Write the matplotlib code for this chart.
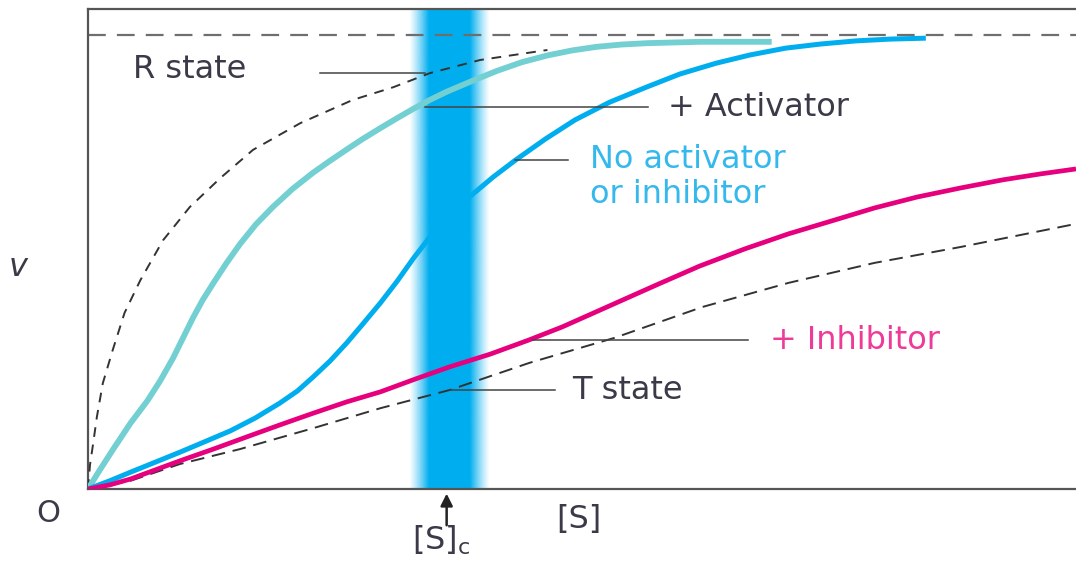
import numpy as np
import matplotlib
matplotlib.use("Agg")
import matplotlib.pyplot as plt
from matplotlib.colors import to_rgb

plt.rcParams['font.family'] = ['DejaVu Sans']
plt.rcParams['mathtext.default'] = 'regular'

# curves: [S] (0..10) and v (Vmax = 1)
act_x = [0, 0.12, 0.25, 0.43, 0.60, 0.73, 0.86, 0.96, 1.06, 1.16, 1.27, 1.40, 1.54,
         1.70, 1.87, 2.07, 2.28, 2.45, 2.62, 2.78, 2.96, 3.13, 3.29, 3.46, 3.63,
         3.89, 4.14, 4.39, 4.65, 4.90, 5.15, 5.40, 5.66, 6.19, 6.92]
act_y = [0, 0.042, 0.086, 0.145, 0.194, 0.238, 0.288, 0.332, 0.376, 0.416, 0.454,
         0.497, 0.540, 0.583, 0.621, 0.661, 0.697, 0.723, 0.748, 0.771, 0.795,
         0.817, 0.837, 0.857, 0.875, 0.899, 0.921, 0.940, 0.955, 0.966, 0.974,
         0.979, 0.982, 0.985, 0.985]

none_x = [0, 0.22, 0.43, 0.68, 0.93, 1.18, 1.44, 1.69, 1.94, 2.12, 2.28, 2.45, 2.62,
          2.78, 2.96, 3.13, 3.29, 3.46, 3.66, 3.87, 4.10, 4.33, 4.63, 4.93, 5.28,
          5.65, 5.99, 6.36, 6.70, 7.06, 7.41, 7.77, 8.12, 8.48]
none_y = [0, 0.018, 0.037, 0.059, 0.081, 0.104, 0.128, 0.156, 0.189, 0.216, 0.247,
          0.282, 0.322, 0.363, 0.410, 0.458, 0.507, 0.555, 0.606, 0.645, 0.687,
          0.725, 0.771, 0.813, 0.852, 0.885, 0.914, 0.938, 0.956, 0.971, 0.980,
          0.987, 0.991, 0.993]

inh_x = [0, 0.22, 0.43, 0.68, 0.93, 1.27, 1.61, 1.94, 2.28, 2.62, 2.96, 3.31, 3.66,
         4.07, 4.46, 4.80, 5.12, 5.46, 5.78, 6.19, 6.65, 7.09, 7.52, 7.96, 8.39,
         8.83, 9.26, 9.64, 10.0]
inh_y = [0, 0.009, 0.022, 0.042, 0.062, 0.088, 0.115, 0.141, 0.167, 0.192, 0.214,
         0.242, 0.269, 0.297, 0.328, 0.357, 0.388, 0.421, 0.452, 0.491, 0.529,
         0.562, 0.590, 0.619, 0.643, 0.663, 0.681, 0.694, 0.705]

r_x = [0, 0.02, 0.05, 0.09, 0.15, 0.25, 0.37, 0.53, 0.76, 1.03, 1.34, 1.67, 2.15,
       2.68, 3.09, 3.46, 3.97, 4.65]
r_y = [0, 0.053, 0.097, 0.159, 0.233, 0.306, 0.388, 0.460, 0.548, 0.621, 0.685,
       0.747, 0.806, 0.857, 0.885, 0.916, 0.945, 0.967]

t_x = [0, 0.43, 0.93, 1.54, 2.28, 2.96, 3.66, 4.47, 5.33, 6.22, 7.09, 7.96, 8.83, 10.0]
t_y = [0, 0.018, 0.055, 0.088, 0.134, 0.178, 0.218, 0.278, 0.333, 0.401, 0.454,
       0.498, 0.533, 0.584]

vmax = 1.0
s_c = 3.63

TXT = '#3a3a48'
TEAL = '#72cfd2'
BLUE = '#00aeef'
MAG = '#e6007e'
LEAD = '#444444'

fig = plt.figure(figsize=(10.76, 5.61), dpi=100)
ax = fig.add_axes([88 / 1076, 72 / 561, 1 - 88 / 1076, 480 / 561])
ax.set_xlim(0, 10.0)
ax.set_ylim(0, 480 / 454)

# soft band around [S]c
band_l, band_r = 3.25, 4.06
core_l, core_r = 3.45, 3.86
xs = np.linspace(band_l, band_r, 300)
alpha = np.clip(np.minimum((xs - band_l) / (core_l - band_l),
                           (band_r - xs) / (band_r - core_r)), 0, 1)
img = np.zeros((1, len(xs), 4))
img[..., :3] = to_rgb('#00aeef')
img[0, :, 3] = alpha ** 1.2
ax.imshow(img, extent=[band_l, band_r, 0, 480 / 454], aspect='auto',
          interpolation='bilinear', zorder=1)

ax.axhline(vmax, color='#6e6e6e', lw=1.6, dashes=(8, 5), zorder=2)
ax.plot(r_x, r_y, color='#333333', lw=1.4, dashes=(5, 4), zorder=3)
ax.plot(t_x, t_y, color='#333333', lw=1.4, dashes=(7, 4), zorder=3)
ax.plot(act_x, act_y, color=TEAL, lw=4.2, solid_capstyle='butt', zorder=4)
ax.plot(none_x, none_y, color=BLUE, lw=3.6, solid_capstyle='butt', zorder=4)
ax.plot(inh_x, inh_y, color=MAG, lw=3.4, solid_capstyle='butt', zorder=5)

# leader lines
leaders = [((2.35, 3.41), 0.916), ((3.41, 5.67), 0.841), ((4.32, 4.86), 0.725),
           ((4.50, 6.68), 0.328), ((3.66, 4.73), 0.218)]
for (x0, x1), y in leaders:
    ax.plot([x0, x1], [y, y], color=LEAD, lw=1.1, zorder=6)

fs = 23
ax.text(0.46, 0.923, 'R state', color=TXT, fontsize=fs, va='center', ha='left')
ax.text(5.87, 0.841, '+ Activator', color=TXT, fontsize=fs, va='center', ha='left')
ax.text(5.08, 0.725, 'No activator', color='#35b9ec', fontsize=fs, va='center', ha='left')
ax.text(5.08, 0.648, 'or inhibitor', color='#35b9ec', fontsize=fs, va='center', ha='left')
ax.text(6.90, 0.328, '+ Inhibitor', color='#ee3a98', fontsize=fs, va='center', ha='left')
ax.text(4.90, 0.218, 'T state', color=TXT, fontsize=fs, va='center', ha='left')

ax.text(-0.71, 0.487, 'v', color=TXT, fontsize=fs, style='italic', va='center',
        ha='center', clip_on=False)
ax.text(-0.40, -0.053, 'O', color=TXT, fontsize=22, va='center', ha='center',
        clip_on=False)
ax.text(4.97, -0.068, '[S]', color=TXT, fontsize=fs, va='center', ha='center',
        clip_on=False)
ax.text(3.28, -0.112, '[S]$_c$', color=TXT, fontsize=fs, va='center', ha='left',
        clip_on=False)
ax.annotate('', xy=(s_c, -0.004), xytext=(s_c, -0.086),
            arrowprops=dict(arrowstyle='-|>', color='#222222', lw=1.8,
                            mutation_scale=18), annotation_clip=False)

for side in ['left', 'bottom', 'top']:
    ax.spines[side].set_color('#555555')
    ax.spines[side].set_linewidth(1.6)
ax.spines['right'].set_visible(False)
ax.set_xticks([])
ax.set_yticks([])

fig.savefig('out.png', dpi=100)
